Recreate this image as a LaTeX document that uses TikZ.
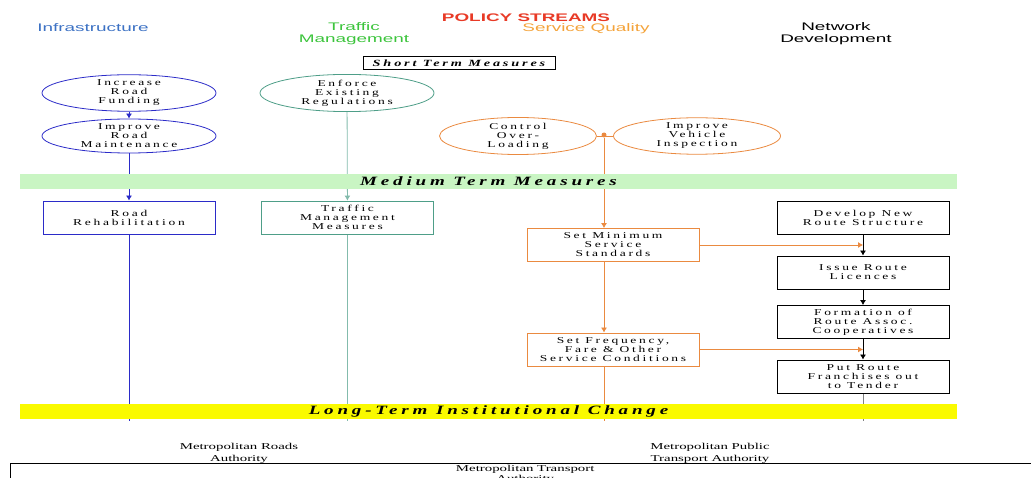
\documentclass[tikz,border=0pt]{standalone}
\usepackage{fontspec}
\usetikzlibrary{shapes.geometric,arrows.meta,positioning}
\newfontfamily\headfont[FakeStretch=1.72]{Liberation Sans}
\newfontfamily\boxfont[FakeStretch=1.5,LetterSpace=30]{Liberation Serif}
\newfontfamily\authfont[FakeStretch=1.65]{Liberation Serif}
\definecolor{infblue}{HTML}{3D72C4}
\definecolor{lineblue}{HTML}{2B2BC8}
\definecolor{trafgreen}{HTML}{3CC43C}
\definecolor{tmgreen}{HTML}{4E9E88}
\definecolor{sqorange}{HTML}{F4A33A}
\definecolor{ellorange}{HTML}{EA8A40}
\definecolor{polred}{HTML}{E83A26}
\definecolor{medgreen}{HTML}{C9F5C3}
\definecolor{longyellow}{HTML}{FAFA00}
\pgfdeclarelayer{back}
\pgfsetlayers{back,main}

\begin{document}
\begin{tikzpicture}[x=1pt, y=-1pt,
  head/.style={align=center, inner sep=0pt, font=\headfont\fontsize{11}{12}\selectfont},
  oval/.style={ellipse, draw, thick, minimum width=174, minimum height=34, inner sep=0pt,
    align=center, font=\boxfont\fontsize{9}{9}\selectfont},
  stepbox/.style={rectangle, draw, thick, minimum width=172, minimum height=33, inner sep=0pt,
    align=center, font=\boxfont\fontsize{9}{9}\selectfont},
  bar/.style={minimum width=937, minimum height=15, inner sep=0pt,
    font=\boxfont\bfseries\itshape\fontsize{12.7}{12}\selectfont},
  authtext/.style={align=center, inner sep=0pt, font=\authfont\fontsize{9}{12}\selectfont},
  flow/.style={thick, -{Latex[length=5pt,width=6pt]}}]
\useasboundingbox (0,0) rectangle (1031,478);
% policy streams
\node[head, text=polred, font=\headfont\bfseries\fontsize{11}{12}\selectfont] (title) at (526,18) {POLICY STREAMS};
\node[head, text=infblue] (infra) at (93,28) {Infrastructure};
\node[head, text=trafgreen] (traffic) at (354,34) {Traffic\\Management};
\node[head, text=sqorange] (service) at (586,29) {Service Quality};
\node[head] (network) at (836,34) {Network\\Development};
\node[draw, thin, inner sep=0pt, minimum width=192, minimum height=13,
  font=\boxfont\bfseries\itshape\fontsize{9.5}{10}\selectfont] (short) at (459,63) {Short Term Measures};
% short term
\node[oval, draw=lineblue] (funding) at (129,93) {Increase\\Road\\Funding};
\node[oval, draw=lineblue] (maint) at (129,136) {Improve\\Road\\Maintenance};
\node[oval, draw=tmgreen] (enforce) at (347,93) {Enforce\\Existing\\Regulations};
\node[oval, draw=ellorange, minimum width=157] (overload) at (518,136) {Control\\Over-\\Loading};
\node[oval, draw=ellorange, minimum width=167] (inspect) at (697,136) {Improve\\Vehicle\\Inspection};
\node[circle, fill=ellorange, inner sep=0pt, minimum size=5] (join) at (604,135) {};
% medium term
\node[bar, fill=medgreen] (medium) at (488.5,181.5) {Medium Term Measures};
\node[stepbox, draw=lineblue] (rehab) at (129,217.5) {Road\\Rehabilitation};
\node[stepbox, draw=tmgreen] (tmmeasures) at (347.5,217.5) {Traffic\\Management\\Measures};
\node[stepbox, draw=ellorange] (minimum) at (613,245) {Set Minimum\\Service\\Standards};
\node[stepbox, draw=ellorange] (frequency) at (613,349.5) {Set Frequency,\\Fare \& Other\\Service Conditions};
\node[stepbox] (newroute) at (863,217.5) {Develop New\\Route Structure};
\node[stepbox] (licences) at (863,272.5) {Issue Route\\Licences};
\node[stepbox] (assoc) at (863,322) {Formation of\\Route Assoc.\\Cooperatives};
\node[stepbox] (tender) at (863,376.5) {Put Route\\Franchises out\\to Tender};
% long term
\node[bar, fill=longyellow] (longterm) at (488.5,411.5) {Long-Term Institutional Change};
\node[authtext] (roads) at (239,453) {Metropolitan Roads\\Authority};
\node[authtext] (public) at (710,453) {Metropolitan Public\\Transport Authority};
\node[draw, anchor=north west, minimum width=1030, minimum height=22, inner sep=0pt,
  authtext, font=\authfont\fontsize{9}{10}\selectfont] (transport) at (10,463) {Metropolitan Transport\\Authority};
% connectors
\begin{pgfonlayer}{back}
\draw[flow, lineblue] (funding) -- (maint);
\draw[flow, lineblue] (maint) -- (rehab);
\draw[thick, lineblue] (rehab) -- ([yshift=-2pt]longterm.south -| rehab);
\draw[flow, tmgreen!70] (enforce) -- (tmmeasures);
\draw[thick, tmgreen!70] (tmmeasures) -- ([yshift=-2pt]longterm.south -| tmmeasures);
\draw[thick, ellorange] (overload) -- (inspect);
\draw[flow, ellorange] (join) -- (join |- minimum.north);
\draw[flow, ellorange] (minimum.south -| join) -- (join |- frequency.north);
\draw[thick, ellorange] (frequency.south -| join) -- ([yshift=-2pt]longterm.south -| join);
\draw[flow, ellorange] (minimum) -- (minimum -| licences);
\draw[flow, ellorange] (frequency) -- (frequency -| licences);
\draw[flow] (newroute) -- (licences);
\draw[flow] (licences) -- (assoc);
\draw[flow] (assoc) -- (tender);
\draw[thick, gray] (tender) -- ([yshift=-2pt]longterm.south -| tender);
\end{pgfonlayer}
\end{tikzpicture}
\end{document}
